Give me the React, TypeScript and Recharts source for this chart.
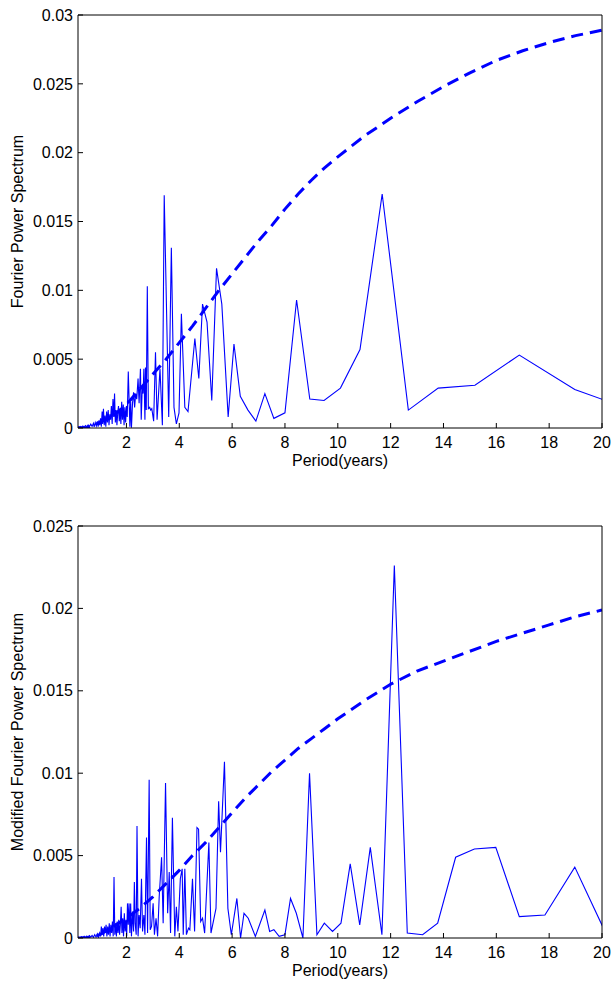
import { LineChart, Line, XAxis, YAxis } from 'recharts'

// spectrum vertices (period in years, power)
const topPeriod = [
  0.167, 0.2, 0.25, 0.3, 0.35, 0.4, 0.45, 0.5, 0.55, 0.6, 0.65, 0.7, 0.75, 0.78, 0.82, 0.86, 0.9, 0.93, 0.96, 0.99,
  1.02, 1.05, 1.08, 1.1, 1.13, 1.16, 1.19, 1.22, 1.25, 1.28, 1.31, 1.34, 1.37, 1.4, 1.43, 1.46, 1.49, 1.52, 1.55, 1.58,
  1.61, 1.64, 1.67, 1.7, 1.73, 1.76, 1.79, 1.82, 1.85, 1.88, 1.91, 1.94, 1.97, 2.0, 2.03, 2.07, 2.13, 2.16, 2.19, 2.23,
  2.27, 2.31, 2.35, 2.39, 2.44, 2.48, 2.53, 2.56, 2.6, 2.63, 2.66, 2.7, 2.72, 2.75, 2.79, 2.83, 2.88, 2.92, 2.96, 3.03,
  3.1, 3.16, 3.27, 3.36, 3.43, 3.6, 3.7, 3.8, 3.89, 3.99, 4.08, 4.21, 4.33, 4.59, 4.74, 4.88, 5.05, 5.23, 5.41, 5.61,
  5.85, 6.07, 6.31, 6.6, 6.9, 7.24, 7.58, 8.0, 8.44, 8.94, 9.48, 10.1, 10.84, 11.68, 12.67, 13.8, 15.19, 16.87, 18.97, 21.71,
]
const topPower = [
  0.0001, 0.00005, 0.00012, 0.00004, 0.00015, 0.00006, 0.00018, 0.00008, 0.00022, 0.0001, 0.00028, 0.00012, 0.00034, 0.00008, 0.0004, 0.00015, 0.00048, 0.0001, 0.00055, 0.0002,
  0.0007, 0.0001, 0.0012, 0.0003, 0.0014, 0.0002, 0.0009, 0.0001, 0.0012, 0.0004, 0.0013, 0.0002, 0.001, 0.0006, 0.0016, 0.0003, 0.0021, 0.0008, 0.0025, 0.0004,
  0.0013, 0.0002, 0.0011, 0.0016, 0.0005, 0.0014, 0.0003, 0.0019, 0.0006, 0.0017, 0.0002, 0.0015, 0.0004, 0.0016, 0.0008, 0.0041, 0.0001, 0.0019, 0.00002, 0.0018,
  0.0026, 0.0015, 0.0025, 0.0021, 0.0036, 0.0018, 0.0043, 0.0006, 0.0031, 0.0025, 0.0043, 0.0006, 0.0044, 0.0013, 0.0103, 0.0014, 0.0015, 0.0013, 0.0014, 0.0005,
  0.0055, 0.0006, 0.0043, 0.0002, 0.0169, 0.0008, 0.0131, 0.0015, 0.0003, 0.0011, 0.0083, 0.0015, 0.0012, 0.0065, 0.0036, 0.009, 0.0077, 0.002, 0.0116, 0.009,
  0.0008, 0.0061, 0.0023, 0.0013, 0.0005, 0.0025, 0.0007, 0.0011, 0.0093, 0.0021, 0.002, 0.0029, 0.0057, 0.017, 0.0013, 0.0029, 0.0031, 0.0053, 0.0028, 0.0009,
]

const bottomPeriod = [
  0.167, 0.25, 0.3, 0.35, 0.4, 0.45, 0.5, 0.55, 0.6, 0.65, 0.7, 0.75, 0.8, 0.85, 0.9, 0.94, 0.98, 1.02, 1.05, 1.08,
  1.11, 1.14, 1.17, 1.2, 1.23, 1.26, 1.29, 1.32, 1.35, 1.38, 1.41, 1.44, 1.47, 1.5, 1.53, 1.56, 1.59, 1.62, 1.65, 1.68,
  1.71, 1.74, 1.77, 1.8, 1.83, 1.86, 1.89, 1.92, 1.95, 1.98, 2.01, 2.04, 2.07, 2.1, 2.13, 2.16, 2.19, 2.23, 2.27, 2.3,
  2.33, 2.37, 2.4, 2.44, 2.48, 2.52, 2.57, 2.61, 2.66, 2.7, 2.76, 2.8, 2.86, 2.9, 2.95, 3.01, 3.06, 3.12, 3.18, 3.24,
  3.33, 3.39, 3.48, 3.56, 3.62, 3.67, 3.74, 3.83, 3.89, 3.95, 4.04, 4.11, 4.15, 4.21, 4.27, 4.35, 4.4, 4.5, 4.58, 4.67,
  4.73, 4.81, 4.88, 4.96, 5.12, 5.2, 5.39, 5.49, 5.56, 5.71, 5.84, 5.97, 6.18, 6.32, 6.45, 6.61, 6.88, 7.24, 7.42, 7.58,
  7.78, 8.0, 8.21, 8.43, 8.68, 8.93, 9.21, 9.49, 9.8, 10.12, 10.47, 10.83, 11.23, 11.67, 12.14, 12.63, 13.21, 13.78, 14.46, 15.17,
  15.98, 16.87, 17.84, 18.97, 20.2,
]
const bottomPower = [
  0.00005, 0.00002, 0.00008, 0.00003, 0.0001, 0.00003, 0.00012, 0.00004, 0.00014, 0.00005, 0.00016, 0.00004, 0.0002, 0.00006, 0.00025, 0.00005, 0.0003, 0.0001, 0.0007, 0.0002,
  0.0006, 0.0001, 0.0007, 0.0003, 0.0008, 0.0001, 0.0007, 0.0002, 0.0009, 0.0001, 0.0008, 0.0003, 0.001, 0.0001, 0.0037, 0.0002, 0.0009, 0.0001, 0.001, 0.0003,
  0.0011, 0.0002, 0.0008, 0.0019, 0.0003, 0.0012, 0.0001, 0.0015, 0.0004, 0.0011, 0.0001, 0.0021, 0.0008, 0.0021, 0.0003, 0.0021, 0.0001, 0.0016, 0.0004, 0.0034,
  0.0009, 0.0002, 0.0068, 0.0001, 0.0014, 0.0006, 0.0036, 0.0004, 0.0014, 0.0002, 0.0061, 0.0003, 0.0096, 0.0005, 0.0007, 0.0021, 0.0002, 0.0012, 0.0001, 0.0025,
  0.0049, 0.0009, 0.0094, 0.0015, 0.004, 0.0003, 0.0073, 0.0001, 0.0019, 0.0004, 0.0036, 0.0042, 0.0002, 0.0042, 0.0002, 0.0006, 0.0005, 0.0036, 0.0004, 0.0067,
  0.0066, 0.001, 0.0012, 0.0003, 0.0058, 0.0003, 0.0018, 0.0083, 0.0052, 0.0107, 0.0018, 0.0002, 0.0024, 0.0, 0.0015, 0.0012, 0.0001, 0.0017, 0.0004, 0.0005,
  0.0001, 0.0002, 0.0024, 0.0015, 0.0, 0.01, 0.0002, 0.0009, 0.0004, 0.0009, 0.0045, 0.0008, 0.0055, 0.0002, 0.0226, 0.0003, 0.0002, 0.0009, 0.0049, 0.0054,
  0.0055, 0.0013, 0.0014, 0.0043, 0.0001,
]

// dashed significance curves
const topLimitPeriod = [0.167, 0.5, 1, 1.5, 2, 2.5, 3, 3.5, 4, 4.5, 5, 5.5, 6, 6.5, 7, 7.5, 8, 8.5, 9, 9.5, 10, 11, 12, 13, 14, 15, 16, 17, 18, 19, 20]
const topLimit = [0.0, 0.00004, 0.0004, 0.0009, 0.0017, 0.0028, 0.0039, 0.005, 0.0062, 0.0074, 0.0087, 0.01, 0.0112, 0.0124, 0.0136, 0.0147, 0.0159, 0.017, 0.018, 0.0189, 0.0197, 0.0212, 0.0225, 0.0237, 0.0248, 0.0258, 0.0267, 0.0274, 0.028, 0.0285, 0.0289]
const bottomLimitPeriod = topLimitPeriod
const bottomLimit = [0.0, 0.00002, 0.0002, 0.0007, 0.0012, 0.0018, 0.0025, 0.0033, 0.0041, 0.005, 0.0058, 0.0067, 0.0076, 0.0085, 0.0093, 0.0101, 0.0108, 0.0115, 0.0121, 0.0127, 0.0133, 0.0144, 0.0154, 0.0162, 0.0168, 0.0174, 0.018, 0.0185, 0.019, 0.0195, 0.0199]

const xTicks = [2, 4, 6, 8, 10, 12, 14, 16, 18, 20]
const topYTicks = [0, 0.005, 0.01, 0.015, 0.02, 0.025, 0.03]
const bottomYTicks = [0, 0.005, 0.01, 0.015, 0.02, 0.025]

const toRows = (ps: number[], vs: number[]) => ps.map((p, i) => ({ p, v: vs[i] }))

const BLUE = '#0000ff'
const FONT = { fill: '#000', fontSize: 16 }

interface PanelProps {
  height: number
  marginTop: number
  marginBottom: number
  spectrum: { p: number; v: number }[]
  limit: { p: number; v: number }[]
  yTicks: number[]
  yLabel: string
}

function Panel({ height, marginTop, marginBottom, spectrum, limit, yTicks, yLabel }: PanelProps) {
  const yMax = yTicks[yTicks.length - 1]
  return (
    <LineChart width={611} height={height} margin={{ top: marginTop, right: 0, bottom: marginBottom, left: 0 }}>
      <XAxis
        xAxisId="b"
        type="number"
        dataKey="p"
        domain={[1 / 6, 20]}
        allowDataOverflow
        ticks={xTicks}
        height={40}
        tickSize={-5}
        tickMargin={14}
        stroke="#000"
        tick={FONT}
        label={{ value: 'Period(years)', position: 'insideBottom', offset: 2, fill: '#000', fontSize: 16 }}
      />
      <XAxis
        xAxisId="t"
        orientation="top"
        type="number"
        dataKey="p"
        domain={[1 / 6, 20]}
        allowDataOverflow
        ticks={xTicks}
        height={15}
        tickSize={-5}
        tick={false}
        stroke="#000"
      />
      <YAxis
        yAxisId="l"
        type="number"
        domain={[0, yMax]}
        allowDataOverflow
        ticks={yTicks}
        width={78}
        tickSize={-5}
        tickMargin={10}
        stroke="#000"
        tick={FONT}
        tickFormatter={(v: number) => String(v)}
        label={{ value: yLabel, angle: -90, position: 'insideLeft', offset: 17, fill: '#000', fontSize: 16, style: { textAnchor: 'middle' } }}
      />
      <YAxis
        yAxisId="r"
        orientation="right"
        type="number"
        domain={[0, yMax]}
        allowDataOverflow
        ticks={yTicks}
        width={9}
        tickSize={-5}
        tick={false}
        stroke="#000"
      />
      <Line
        xAxisId="b"
        yAxisId="l"
        data={spectrum}
        dataKey="v"
        type="linear"
        stroke={BLUE}
        strokeWidth={1.1}
        dot={false}
        isAnimationActive={false}
      />
      <Line
        xAxisId="b"
        yAxisId="l"
        data={limit}
        dataKey="v"
        type="linear"
        stroke={BLUE}
        strokeWidth={3}
        strokeDasharray="12 7"
        dot={false}
        isAnimationActive={false}
      />
    </LineChart>
  )
}

export default function App() {
  return (
    <div style={{ position: 'absolute', left: 0, top: 0, width: 611, height: 981, background: '#fff', fontFamily: '"Liberation Sans", Arial, sans-serif' }}>
      <Panel
        height={490}
        marginTop={0}
        marginBottom={22}
        spectrum={toRows(topPeriod, topPower)}
        limit={toRows(topLimitPeriod, topLimit)}
        yTicks={topYTicks}
        yLabel="Fourier Power Spectrum"
      />
      <Panel
        height={491}
        marginTop={21}
        marginBottom={3}
        spectrum={toRows(bottomPeriod, bottomPower)}
        limit={toRows(bottomLimitPeriod, bottomLimit)}
        yTicks={bottomYTicks}
        yLabel="Modified Fourier Power Spectrum"
      />
    </div>
  )
}
